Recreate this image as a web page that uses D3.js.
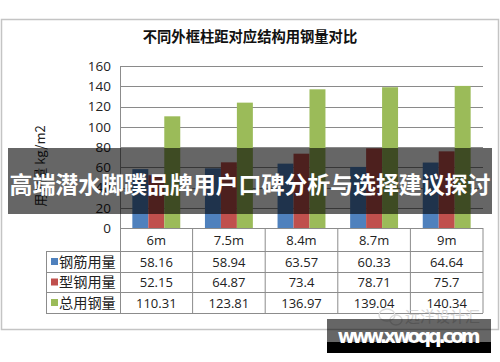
<!DOCTYPE html>
<html><head><meta charset="utf-8">
<script src="https://cdn.jsdelivr.net/npm/d3@7"></script>
<style>body{margin:0;background:#fff}svg{display:block}</style>
</head><body><svg id="c" width="500" height="362"></svg>
<script>
const categories = ["6m","7.5m","8.4m","8.7m","9m"];
const seriesNames = ["钢筋用量","型钢用量","总用钢量"];
const rebar = [58.16,58.94,63.57,60.33,64.64];
const steelSection = [52.15,64.87,73.4,78.71,75.7];
const totalSteel = [110.31,123.81,136.97,139.04,140.34];
const yTicks = [0,20,40,60,80,100,120,140,160];
const colors = ["#4F81BD","#C0504D","#9BBB59"];
const title = "不同外框柱距对应结构用钢量对比";
const yLabel = "用钢量 kg/m2";
const bannerText = "高端潜水脚蹼品牌用户口碑分析与选择建议探讨";
const series = [rebar, steelSection, totalSteel];

(function(){
const svg = d3.select("#c");
const cjk = "'Noto Sans CJK SC', sans-serif";
const num = "'Open Sans', 'Liberation Sans', sans-serif";

svg.append("rect").attr("x",1.5).attr("y",19.5).attr("width",497).attr("height",310)
  .attr("fill","#fff").attr("stroke","#c4c4c4").attr("stroke-width",1.5);

svg.append("text").attr("x",250).attr("y",42).attr("text-anchor","middle")
  .attr("font-family",cjk).attr("font-weight","bold").attr("font-size",14.3).attr("fill","#111").text(title);

const pL=120, pR=483, pT=66, pB=228;
const y = d3.scaleLinear().domain([0,160]).range([pB,pT]);
const x = d3.scaleBand().domain(categories).range([pL,pR]).paddingInner(0.34).paddingOuter(0.17);
const xs = d3.scaleBand().domain(d3.range(3)).range([0,x.bandwidth()]);
const step = x.step();

svg.append("g").selectAll("line").data(yTicks.filter(d=>d>0)).join("line")
  .attr("x1",pL).attr("x2",pR).attr("y1",d=>Math.round(y(d))+0.5).attr("y2",d=>Math.round(y(d))+0.5)
  .attr("stroke","#8a8a8a").attr("stroke-width",1);

const ya = svg.append("g").attr("transform",`translate(${pL},0)`)
  .call(d3.axisLeft(y).tickValues(yTicks).tickSize(0).tickPadding(9));
ya.select(".domain").remove();
ya.selectAll("text").attr("font-family",num).attr("font-size",13.5).attr("fill","#222");

svg.append("text").attr("transform",`translate(45,166) rotate(-90)`).attr("text-anchor","middle")
  .attr("font-family",cjk).attr("font-size",13).attr("fill","#222").text(yLabel);

series.forEach((vals,si)=>{
  svg.append("g").selectAll("rect").data(vals).join("rect")
    .attr("x",(d,i)=>x(categories[i])+xs(si)).attr("width",xs.bandwidth())
    .attr("y",d=>y(d)).attr("height",d=>y(0)-y(d)).attr("fill",colors[si]);
});

const rowY = [pB, 251, 272, 292, 313];
const colX = d3.range(categories.length+1).map(i=>pL+i*step);
const tg = svg.append("g").attr("stroke","#8c8c8c").attr("stroke-width",1);
tg.append("line").attr("x1",pL+0.5).attr("x2",pL+0.5).attr("y1",pT).attr("y2",rowY[4]);
colX.slice(1).forEach(cx=>tg.append("line").attr("x1",cx).attr("x2",cx).attr("y1",pB).attr("y2",rowY[4]));
tg.append("line").attr("x1",46.5).attr("x2",46.5).attr("y1",rowY[1]).attr("y2",rowY[4]);
tg.append("line").attr("x1",pL).attr("x2",pR).attr("y1",pB+0.5).attr("y2",pB+0.5);
rowY.slice(1).forEach(ry=>tg.append("line").attr("x1",46).attr("x2",pR).attr("y1",ry+0.5).attr("y2",ry+0.5));

svg.append("g").selectAll("text").data(categories).join("text")
  .attr("x",(d,i)=>pL+(i+0.5)*step).attr("y",(rowY[0]+rowY[1])/2+5).attr("text-anchor","middle")
  .attr("font-family",num).attr("font-size",13).attr("fill","#222").text(d=>d);

series.forEach((vals,si)=>{
  const cy=(rowY[si+1]+rowY[si+2])/2;
  svg.append("rect").attr("x",51).attr("y",cy-3.5).attr("width",7).attr("height",7).attr("fill",colors[si]);
  svg.append("text").attr("x",59).attr("y",cy+5).attr("font-family",cjk).attr("font-size",14.2)
    .attr("fill","#222").text(seriesNames[si]);
  svg.append("g").selectAll("text").data(vals).join("text")
    .attr("x",(d,i)=>pL+(i+0.5)*step).attr("y",cy+5).attr("text-anchor","middle")
    .attr("font-family",num).attr("font-size",13).attr("fill","#222").text(d=>d);
});

svg.append("text").attr("x",405).attr("y",322).attr("font-family",cjk).attr("font-size",15)
  .attr("fill","#d6d6d6").text("远洋设计汇");
svg.append("ellipse").attr("cx",387).attr("cy",315).attr("rx",8).attr("ry",6).attr("fill","none").attr("stroke","#dcdcdc").attr("stroke-width",1.5);
svg.append("ellipse").attr("cx",396).attr("cy",320).attr("rx",6).attr("ry",5).attr("fill","none").attr("stroke","#dcdcdc").attr("stroke-width",1.5);

svg.append("rect").attr("x",8).attr("y",148).attr("width",484).attr("height",66).attr("fill","rgba(0,0,0,0.6)");
svg.append("text").attr("x",250).attr("y",193).attr("text-anchor","middle").attr("textLength",481)
  .attr("font-family",cjk).attr("font-weight","bold").attr("font-size",23).attr("fill","#fff").text(bannerText);

svg.append("rect").attr("x",327).attr("y",319).attr("width",164).attr("height",34).attr("fill","rgba(0,0,0,0.6)");
svg.append("rect").attr("x",327).attr("y",342).attr("width",164).attr("height",11).attr("fill","#000");
svg.append("text").attr("x",409).attr("y",343).attr("text-anchor","middle").attr("textLength",143)
  .attr("font-family","'DejaVu Sans', sans-serif").attr("font-weight","bold").attr("font-size",19).attr("fill","#fff").text("www.xwoqq.com");
})();
</script></body></html>
